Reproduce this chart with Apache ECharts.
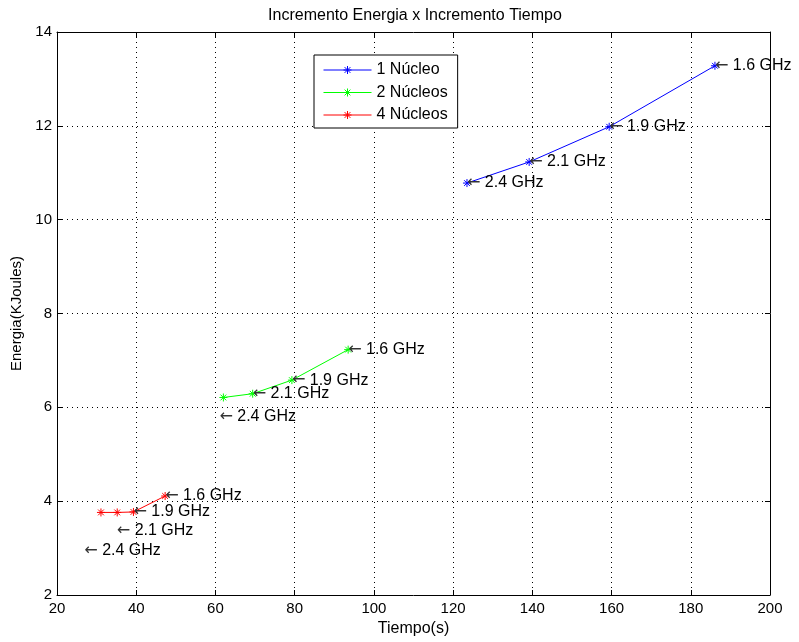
<!DOCTYPE html>
<html>
<head>
<meta charset="utf-8">
<script src="https://cdn.jsdelivr.net/npm/echarts@6/dist/echarts.min.js"></script>
<style>
  html, body { margin: 0; padding: 0; background: #fff; }
  #chart { width: 799px; height: 642px; }
</style>
</head>
<body>
<div id="chart"></div>
<script>
// valores
const frecuencias = ['2.4 GHz', '2.1 GHz', '1.9 GHz', '1.6 GHz']

const tiempo1 = [123.5, 139.2, 159.4, 186.1]
const energia1 = [10.78, 11.23, 11.98, 13.28]
const tiempo2 = [62.0, 69.4, 79.3, 93.5]
const energia2 = [6.21, 6.29, 6.58, 7.23]
const tiempo4 = [31.1, 35.2, 39.3, 47.3]
const energia4 = [3.76, 3.76, 3.77, 4.11]

// donde van las flechas de texto
const etiquetaX1 = [123.5, 139.2, 159.4, 186.1]
const etiquetaY1 = [10.78, 11.23, 11.98, 13.28]
const etiquetaX2 = [61.0, 69.4, 79.3, 93.5]
const etiquetaY2 = [5.80, 6.29, 6.58, 7.23]
const etiquetaX4 = [26.9, 35.1, 39.3, 47.3]
const etiquetaY4 = [2.94, 3.37, 3.77, 4.11]

const ticksX = [20, 40, 60, 80, 100, 120, 140, 160, 180, 200]
const ticksY = [2, 4, 6, 8, 10, 12, 14]

const fuente = 'Liberation Sans, Arial, Helvetica, sans-serif'
const asterisco = 'path://M0,-5L0,5M-5,0L5,0M-3.6,-3.6L3.6,3.6M-3.6,3.6L3.6,-3.6'

const pares = (xs, ys) => xs.map((x, i) => [x, ys[i]])

const serieLinea = (name, xs, ys, color) => ({
    name,
    type: 'line',
    data: pares(xs, ys),
    symbol: asterisco,
    symbolSize: 8,
    showAllSymbol: true,
    lineStyle: { color, width: 1 },
    itemStyle: { color: 'rgba(0,0,0,0)', borderColor: color, borderWidth: 1 },
    emphasis: { disabled: true },
    animation: false,
    z: 3
})

const serieTexto = (xs, ys) => ({
    type: 'scatter',
    data: xs.map((x, i) => [x, ys[i], frecuencias[i]]),
    symbolSize: 0,
    silent: true,
    animation: false,
    itemStyle: { opacity: 1 },
    label: {
        show: true,
        position: 'right',
        distance: 0,
        formatter: p => '{f|\u2190} ' + p.data[2],
        color: '#000',
        fontSize: 16,
        fontFamily: fuente,
        rich: {
            f: { fontFamily: 'DejaVu Sans', fontSize: 16, color: '#333' }
        }
    },
    z: 4
})

const chart = echarts.init(document.getElementById('chart'), null, { renderer: 'canvas' })

const ejeComun = {
    axisLine: { show: true, lineStyle: { color: '#000', width: 1 } },
    axisTick: { show: true, inside: true, length: 5, lineStyle: { color: '#000' } },
    splitLine: { show: false }
}

chart.setOption({
    backgroundColor: '#fff',
    animation: false,
    grid: { left: 57, right: 29, top: 32, bottom: 46, containLabel: false },
    graphic: [{
        type: 'text',
        x: 415,
        y: 16,
        style: {
            text: 'Incremento Energia x Incremento Tiempo',
            fill: '#000',
            font: '16px ' + fuente,
            textAlign: 'center',
            textVerticalAlign: 'middle'
        }
    }],
    legend: {
        orient: 'vertical',
        left: 314,
        top: 55,
        data: ['1 Núcleo', '2 Núcleos', '4 Núcleos'],
        itemWidth: 48,
        itemHeight: 10,
        itemGap: 6.5,
        padding: [7, 10, 5, 9],
        borderColor: '#000',
        borderWidth: 1,
        backgroundColor: '#fff',
        selectedMode: false,
        itemStyle: { color: 'rgba(0,0,0,0)', borderWidth: 1 },
        lineStyle: { width: 1 },
        textStyle: { color: '#000', fontSize: 16, lineHeight: 16, fontFamily: fuente }
    },
    xAxis: [
        Object.assign({}, ejeComun, {
            type: 'value', min: 20, max: 200, interval: 20,
            name: 'Tiempo(s)', nameLocation: 'middle', nameGap: 26,
            nameTextStyle: { color: '#000', fontSize: 16, fontFamily: fuente },
            axisLabel: { color: '#000', fontSize: 15, fontFamily: fuente, margin: 6,
                formatter: v => ticksX.includes(v) ? String(v) : '' },
            splitLine: { show: true, lineStyle: { color: '#000', type: [1, 4], width: 1 } }
        }),
        Object.assign({}, ejeComun, {
            type: 'value', min: 20, max: 200, interval: 20, position: 'top',
            axisLabel: { show: false }
        })
    ],
    yAxis: [
        Object.assign({}, ejeComun, {
            type: 'value', min: 2, max: 14, interval: 2,
            name: 'Energia(KJoules)', nameLocation: 'middle', nameGap: 27,
            nameTextStyle: { color: '#000', fontSize: 15, fontFamily: fuente },
            axisLabel: { color: '#000', fontSize: 15, fontFamily: fuente, margin: 5,
                formatter: v => ticksY.includes(v) ? String(v) : '' },
            splitLine: { show: true, lineStyle: { color: '#000', type: [1, 4], width: 1 } }
        }),
        Object.assign({}, ejeComun, {
            type: 'value', min: 2, max: 14, interval: 2, position: 'right',
            axisLabel: { show: false }
        })
    ],
    series: [
        serieLinea('1 Núcleo', tiempo1, energia1, '#0000ff'),
        serieLinea('2 Núcleos', tiempo2, energia2, '#00ff00'),
        serieLinea('4 Núcleos', tiempo4, energia4, '#ff0000'),
        serieTexto(etiquetaX1, etiquetaY1),
        serieTexto(etiquetaX2, etiquetaY2),
        serieTexto(etiquetaX4, etiquetaY4)
    ]
})
</script>
</body>
</html>
